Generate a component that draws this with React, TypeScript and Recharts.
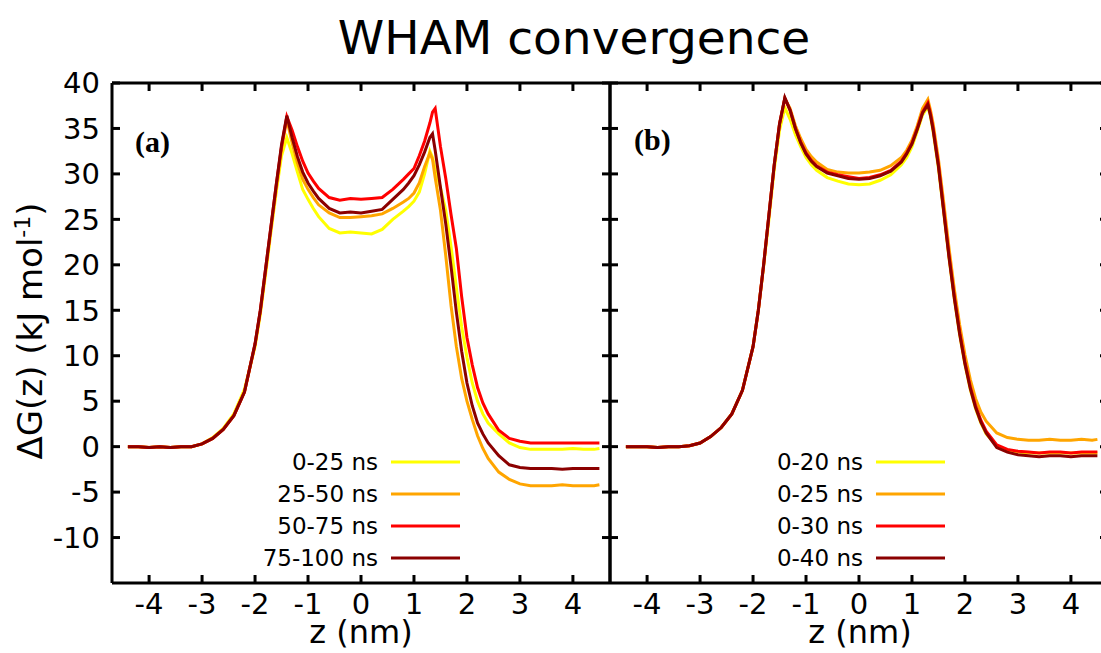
import { LineChart, Line, XAxis, YAxis } from 'recharts'

// z positions (nm), shared by both panels
const zGrid = [
  -4.4, -4.2, -4.0, -3.8, -3.6, -3.4, -3.2, -3.0, -2.8, -2.6, -2.4, -2.2, -2.0,
  -1.9, -1.8, -1.7, -1.6, -1.5, -1.4, -1.3, -1.2, -1.1, -1.0, -0.9, -0.8,
  -0.6, -0.4, -0.2, 0, 0.2, 0.4, 0.6, 0.8,
  0.9, 1.0, 1.1, 1.2, 1.3, 1.35,
  1.4, 1.5, 1.6, 1.7, 1.8, 1.9, 2.0, 2.1, 2.2, 2.3, 2.4,
  2.6, 2.8, 3.0, 3.2, 3.4, 3.6, 3.8, 4.0, 4.2, 4.4, 4.5,
]

const zTicks = [-4, -3, -2, -1, 0, 1, 2, 3, 4]
const gTicks = [-10, -5, 0, 5, 10, 15, 20, 25, 30, 35, 40]

const namesA = ['0-25 ns', '25-50 ns', '50-75 ns', '75-100 ns']
const namesB = ['0-20 ns', '0-25 ns', '0-30 ns', '0-40 ns']
const COLORS = ['#ffff00', '#ffa500', '#ff0000', '#8b0000']

// panel (a): block averages
const a0_25 = [
  0.0, 0.0, -0.1, 0.0, -0.1, 0.0, 0.0, 0.3, 1.0, 2.0, 3.6, 6.3, 11.0,
  14.6, 19.0, 23.6, 28.0, 32.0, 34.0, 32.2, 30.2, 28.3, 27.2, 26.2, 25.3,
  24.0, 23.5, 23.6, 23.5, 23.4, 23.9, 25.0, 25.9,
  26.4, 27.0, 28.0, 30.0, 32.5, 31.8,
  30.5, 28.5, 26.0, 22.0, 17.5, 13.2, 9.8, 7.0, 5.0, 3.6, 2.6,
  1.4, 0.4, -0.1, -0.3, -0.3, -0.3, -0.3, -0.2, -0.3, -0.3, -0.2,
]
const a25_50 = [
  0.0, 0.0, -0.1, 0.0, -0.1, 0.0, 0.0, 0.3, 0.9, 1.9, 3.4, 6.0, 11.2,
  14.8, 19.3, 23.9, 28.4, 32.8, 36.0, 33.4, 31.2, 29.4, 28.3, 27.4, 26.6,
  25.7, 25.2, 25.2, 25.3, 25.4, 25.6, 26.2, 26.9,
  27.3, 27.9, 29.0, 30.8, 32.3, 31.6,
  29.6, 26.0, 21.0, 15.5, 11.0, 7.5, 5.0, 3.0, 1.2, -0.2, -1.3,
  -2.8, -3.6, -4.1, -4.3, -4.3, -4.3, -4.2, -4.3, -4.3, -4.3, -4.2,
]
const a50_75 = [
  0.0, 0.0, -0.1, 0.0, -0.1, 0.0, 0.0, 0.3, 0.9, 1.9, 3.4, 6.0, 11.3,
  15.0, 19.6, 24.2, 28.8, 33.0, 36.3, 34.8, 33.0, 31.4, 30.1, 29.2, 28.4,
  27.4, 27.1, 27.3, 27.2, 27.3, 27.4, 28.3, 29.4,
  30.0, 30.6, 32.0, 33.6, 35.6, 36.8,
  37.2, 33.0, 29.5, 25.5, 21.8, 16.5, 12.0, 9.0, 6.5, 4.8, 3.6,
  1.8, 0.9, 0.6, 0.4, 0.4, 0.4, 0.4, 0.4, 0.4, 0.4, 0.4,
]
const a75_100 = [
  0.0, 0.0, -0.1, 0.0, -0.1, 0.0, 0.0, 0.3, 0.9, 1.9, 3.4, 6.0, 11.3,
  15.0, 19.6, 24.2, 28.8, 33.2, 36.4, 34.0, 31.9, 30.2, 29.0, 28.1, 27.3,
  26.2, 25.7, 25.8, 25.7, 25.9, 26.1, 27.2, 28.3,
  29.0, 29.8, 31.0, 32.4, 34.0, 34.4,
  32.6, 28.5, 24.5, 19.8, 14.8, 10.5, 7.0, 4.5, 2.6, 1.4, 0.4,
  -1.0, -2.0, -2.3, -2.4, -2.4, -2.4, -2.5, -2.4, -2.4, -2.4, -2.4,
]

// panel (b): cumulative windows
const b0_20 = [
  0.0, 0.0, 0.0, -0.1, 0.0, 0.0, 0.1, 0.4, 1.1, 2.1, 3.6, 6.2, 11.0,
  15.0, 19.8, 25.0, 30.5, 34.8, 37.3, 36.0, 34.3, 33.0, 31.8, 31.0, 30.4,
  29.6, 29.2, 28.9, 28.8, 28.9, 29.3, 29.9, 31.0,
  31.8, 33.0, 34.7, 36.5, 37.4, 36.3,
  34.6, 30.6, 25.7, 20.7, 16.2, 12.3, 9.0, 6.3, 4.2, 2.6, 1.4,
  0.1, -0.4, -0.6, -0.7, -0.7, -0.7, -0.7, -0.7, -0.7, -0.7, -0.7,
]
const b0_25 = [
  0.0, 0.0, 0.0, -0.1, 0.0, 0.0, 0.1, 0.4, 1.1, 2.1, 3.6, 6.2, 11.0,
  15.0, 20.0, 25.5, 31.0, 35.5, 38.3, 37.2, 35.3, 33.9, 32.7, 31.9, 31.3,
  30.5, 30.2, 30.1, 30.1, 30.2, 30.4, 30.9, 31.8,
  32.6, 33.7, 35.3, 37.2, 38.2, 37.0,
  35.5, 31.6, 26.8, 21.8, 17.3, 13.4, 10.1, 7.4, 5.3, 3.8, 2.8,
  1.5, 1.0, 0.8, 0.7, 0.7, 0.8, 0.7, 0.7, 0.8, 0.7, 0.8,
]
const b0_30 = [
  0.0, 0.0, 0.0, -0.1, 0.0, 0.0, 0.1, 0.4, 1.1, 2.1, 3.6, 6.2, 11.0,
  15.0, 20.0, 25.5, 31.0, 35.5, 38.3, 37.0, 35.0, 33.5, 32.3, 31.5, 30.9,
  30.2, 29.9, 29.7, 29.5, 29.6, 29.9, 30.4, 31.4,
  32.3, 33.4, 35.0, 36.8, 37.8, 36.6,
  35.0, 31.0, 26.0, 21.0, 16.5, 12.6, 9.3, 6.6, 4.5, 2.9, 1.7,
  0.2, -0.3, -0.5, -0.6, -0.7, -0.6, -0.6, -0.7, -0.6, -0.6, -0.6,
]
const b0_40 = [
  0.0, 0.0, 0.0, -0.1, 0.0, 0.0, 0.1, 0.4, 1.1, 2.1, 3.6, 6.2, 11.0,
  15.0, 20.0, 25.5, 31.0, 35.5, 38.4, 37.0, 35.0, 33.4, 32.2, 31.4, 30.8,
  30.1, 29.8, 29.5, 29.4, 29.5, 29.8, 30.3, 31.3,
  32.2, 33.3, 34.9, 36.7, 37.6, 36.4,
  34.8, 30.8, 25.8, 20.8, 16.3, 12.4, 9.1, 6.4, 4.3, 2.7, 1.5,
  -0.1, -0.6, -0.9, -1.0, -1.1, -1.0, -1.0, -1.1, -1.0, -1.0, -1.0,
]

const seriesA = [a0_25, a25_50, a50_75, a75_100]
const seriesB = [b0_20, b0_25, b0_30, b0_40]

const toRows = (series: number[][]) =>
  zGrid.map((z, i) => {
    const row: Record<string, number> = { z }
    series.forEach((s, k) => (row['s' + k] = s[i]))
    return row
  })

const axisStroke = { stroke: '#000', strokeWidth: 3 }
const tickStroke = { stroke: '#000', strokeWidth: 3, strokeLinecap: 'butt' as const }
const tickFont = { fill: '#000', fontSize: 29, fontFamily: 'DejaVu Sans' }
// mirrored axes: keep the tick marks, drop the numbers
const noLabel = () => <g />

interface PanelProps {
  series: number[][]
  names: string[]
  left: number
  width: number
  leftAxisWidth: number
  rightAxisWidth: number
  showYTicks: boolean
}

function Panel({ series, names, left, width, leftAxisWidth, rightAxisWidth, showYTicks }: PanelProps) {
  const data = toRows(series)
  return (
    <div style={{ position: 'absolute', left, top: 0 }}>
      <LineChart width={width} height={653} data={data} margin={{ top: 82, right: 0, bottom: 0, left: 0 }}>
        <XAxis
          xAxisId="b"
          dataKey="z"
          type="number"
          domain={[-4.7, 4.7]}
          ticks={zTicks}
          interval={0}
          allowDataOverflow
          height={70}
          tickSize={-8}
          tickMargin={18}
          axisLine={axisStroke}
          tickLine={tickStroke}
          tick={tickFont}
        />
        <XAxis
          xAxisId="t"
          dataKey="z"
          orientation="top"
          type="number"
          domain={[-4.7, 4.7]}
          ticks={zTicks}
          interval={0}
          allowDataOverflow
          height={1}
          tickSize={-8}
          axisLine={axisStroke}
          tickLine={tickStroke}
          tick={noLabel}
        />
        <YAxis
          yAxisId="l"
          type="number"
          domain={[-15, 40]}
          ticks={gTicks}
          interval={0}
          allowDataOverflow
          width={leftAxisWidth}
          tickSize={-8}
          tickMargin={20}
          axisLine={axisStroke}
          tickLine={tickStroke}
          tick={showYTicks ? tickFont : noLabel}
        />
        <YAxis
          yAxisId="r"
          dataKey="s0"
          orientation="right"
          type="number"
          domain={[-15, 40]}
          ticks={gTicks}
          interval={0}
          allowDataOverflow
          width={rightAxisWidth}
          tickSize={-8}
          axisLine={axisStroke}
          tickLine={tickStroke}
          tick={noLabel}
        />
        {series.map((_, k) => (
          <Line
            key={k}
            xAxisId="b"
            yAxisId="l"
            dataKey={'s' + k}
            name={names[k]}
            stroke={COLORS[k]}
            strokeWidth={3}
            dot={false}
            type="linear"
            isAnimationActive={false}
          />
        ))}
      </LineChart>
    </div>
  )
}

const legendRows = [462, 494, 526, 558]

function Legend({ names, textRight }: { names: string[]; textRight: number }) {
  return (
    <g>
      {names.map((n, k) => (
        <g key={n}>
          <text x={textRight} y={legendRows[k] + 8} textAnchor="end" fontSize={23} fontFamily="DejaVu Sans" fill="#000">
            {n}
          </text>
          <line x1={textRight + 13} x2={textRight + 82} y1={legendRows[k]} y2={legendRows[k]} stroke={COLORS[k]} strokeWidth={3} />
        </g>
      ))}
    </g>
  )
}

export default function App() {
  return (
    <div style={{ position: 'absolute', left: 0, top: 0, width: 1101, height: 653, overflow: 'hidden', background: '#fff' }}>
      <Panel series={seriesA} names={namesA} left={0} width={620} leftAxisWidth={112} rightAxisWidth={10} showYTicks />
      <Panel series={seriesB} names={namesB} left={600} width={520} leftAxisWidth={10} rightAxisWidth={12} showYTicks={false} />
      <svg width={1101} height={653} style={{ position: 'absolute', left: 0, top: 0, pointerEvents: 'none' }}>
        <text x={574} y={54} textAnchor="middle" fontSize={47} fontFamily="DejaVu Sans" fill="#000">
          WHAM convergence
        </text>
        <text x={135} y={152} fontSize={30} fontWeight="bold" fontFamily="Liberation Serif" fill="#000">(a)</text>
        <text x={634} y={150} fontSize={30} fontWeight="bold" fontFamily="Liberation Serif" fill="#000">(b)</text>
        <text x={361} y={643} textAnchor="middle" fontSize={32} fontFamily="DejaVu Sans" fill="#000">z (nm)</text>
        <text x={860} y={643} textAnchor="middle" fontSize={32} fontFamily="DejaVu Sans" fill="#000">z (nm)</text>
        <text transform="translate(42,331) rotate(-90)" textAnchor="middle" fontSize={34} fontFamily="DejaVu Sans" fill="#000">
          ΔG(z) (kJ mol<tspan dy={-12} fontSize={22}>-1</tspan><tspan dy={12}>)</tspan>
        </text>
        <Legend names={namesA} textRight={378} />
        <Legend names={namesB} textRight={863} />
      </svg>
    </div>
  )
}
